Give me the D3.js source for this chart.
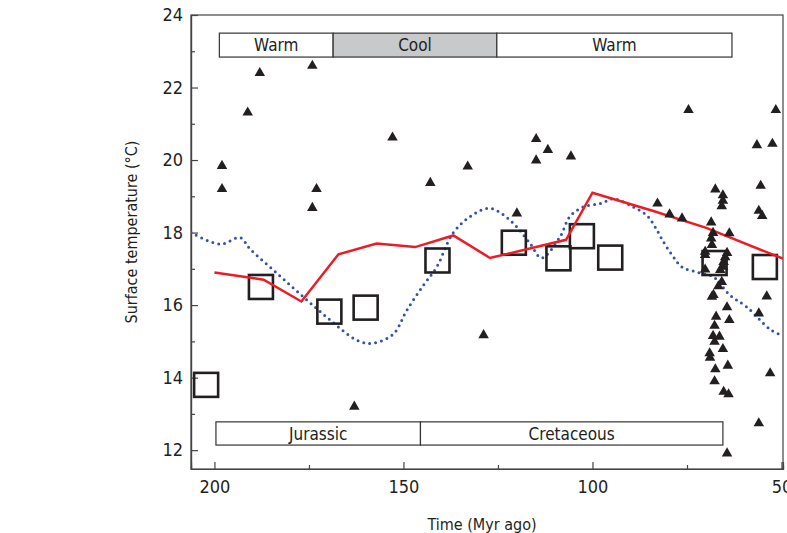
<!DOCTYPE html>
<html>
<head>
<meta charset="utf-8">
<script src="https://cdn.jsdelivr.net/npm/d3@7"></script>
<style>
  body { margin: 0; background: #fff; }
  svg text { font-family: "Liberation Sans Narrow", "DejaVu Sans Condensed", "Arial Narrow", sans-serif; fill: #231f20; }
</style>
</head>
<body>
<div id="chart"></div>
<script>
// ---- data (age in Myr ago, temperature in deg C) ----
var xTicks = [200, 150, 100, 50];
var xMinor = [175, 125, 75];
var yTicks = [12, 14, 16, 18, 20, 22, 24];
var yMinor = [13, 15, 17, 19, 21, 23];

var climatePhases = [
  {label: "Warm", from: 198.7, to: 168.6, cool: false},
  {label: "Cool", from: 168.6, to: 125.3, cool: true},
  {label: "Warm", from: 125.3, to: 63.1, cool: false}
];
var periods = [
  {label: "Jurassic", from: 199.6, to: 145.5},
  {label: "Cretaceous", from: 145.5, to: 65.5}
];

// red solid line
var redAge  = [200, 187, 177, 167.2, 157.1, 146.9, 136.8, 127.1, 107, 100, 84.1, 69.9, 49.6];
var redTemp = [16.9, 16.7, 16.1, 17.4, 17.7, 17.6, 17.92, 17.3, 17.8, 19.1, 18.6, 18.13, 17.28];

// blue dotted curve
var blueAge  = [206.2, 198.5, 193.2, 190.6, 183.5, 176.5, 169.4, 162.3, 158, 152.7, 149.1, 144.7, 141.2,
                136.8, 131.5, 127.1, 121.8, 116.5, 113.5, 108.6, 106, 102.4, 97.9, 94.4, 89.1, 85.6, 83.4,
                81.2, 78.6, 76.3, 72, 68, 63.6, 59.2, 53, 49.6];
var blueTemp = [18.0, 17.68, 17.86, 17.55, 16.88, 16.23, 15.59, 15.03, 14.95, 15.2, 15.86, 16.55, 17.05,
                18.0, 18.5, 18.67, 18.34, 17.7, 17.3, 17.88, 18.44, 18.71, 18.8, 18.93, 18.7, 18.47, 18.15,
                17.74, 17.33, 17.05, 16.9, 16.78, 16.27, 15.95, 15.33, 15.15];

// open squares
var sqAge  = [202.2, 187.7, 169.6, 160, 141, 120.8, 109, 102.8, 95.3, 67.7, 54.4];
var sqTemp = [13.8, 16.5, 15.82, 15.93, 17.23, 17.72, 17.29, 17.9, 17.31, 17.16, 17.05];

// filled triangles
var triAge  = [198, 198, 191.2, 188, 174.1, 173, 174.1, 152.9, 163, 142.9, 133, 128.8, 120, 114.9, 111.8,
               114.9, 105.7, 82.8, 79.6, 76.3, 74.6,
               51.5, 56.5, 52.4, 55.5, 56, 55.1, 53.9, 56, 53, 56,
               67.5, 65.5, 65.5, 65.8, 68.6, 63.8, 68.1, 68.6, 68.4, 70.2, 70.2, 64.4, 64.9, 65.3, 65.5,
               66.2, 70.2, 65.8, 66.7, 68.0, 68.4, 64.4, 63.8, 67.3, 67.7, 68.1, 66.4, 67.7, 65.5, 69.0,
               68.9, 64.2, 67.5, 67.7, 65.3, 64.0, 64.4];
var triTemp = [19.84, 19.2, 21.31, 22.4, 22.6, 19.2, 18.68, 20.62, 13.2, 19.37, 19.82, 15.17, 18.53, 20.58, 20.28,
               19.99, 20.1, 18.8, 18.5, 18.39, 21.38,
               21.38, 20.41, 20.45, 19.29, 18.6, 18.46, 16.24, 15.77, 14.12, 12.74,
               19.19, 19.03, 18.88, 18.73, 18.28, 17.98, 17.99, 17.84, 17.66, 17.47, 17.38, 17.44, 17.32, 17.19, 17.06,
               16.97, 16.98, 16.64, 16.52, 16.28, 16.23, 15.94, 15.59, 15.68, 15.43, 15.15, 15.13, 14.99, 14.79, 14.67,
               14.55, 14.33, 14.23, 13.9, 13.61, 13.54, 11.91];

// ---- layout ----
var W = 787, H = 533;
var plot = {left: 191, right: 783, top: 15, bottom: 469};

var svg = d3.select("#chart").append("svg")
  .attr("width", W).attr("height", H);

var x = d3.scaleLinear().domain([206.2, 49.6]).range([plot.left, plot.right]);
var y = d3.scaleLinear().domain([11.48, 24]).range([plot.bottom, plot.top]);

svg.append("clipPath").attr("id", "clip")
  .append("rect")
  .attr("x", plot.left).attr("y", plot.top)
  .attr("width", plot.right - plot.left).attr("height", plot.bottom - plot.top);

// frame
svg.append("rect")
  .attr("x", plot.left).attr("y", plot.top)
  .attr("width", plot.right - plot.left).attr("height", plot.bottom - plot.top)
  .attr("fill", "none").attr("stroke", "#444").attr("stroke-width", 1.2);

// axes (ticks pointing inward)
var xAxis = svg.append("g")
  .attr("transform", "translate(0," + plot.bottom + ")")
  .call(d3.axisBottom(x).tickValues(xTicks).tickSize(-7).tickPadding(11).tickFormat(d3.format("d")));
svg.append("g")
  .attr("transform", "translate(0," + plot.bottom + ")")
  .call(d3.axisBottom(x).tickValues(xMinor).tickSize(-4).tickFormat(""));
var yAxis = svg.append("g")
  .attr("transform", "translate(" + plot.left + ",0)")
  .call(d3.axisLeft(y).tickValues(yTicks).tickSize(-7).tickPadding(8).tickFormat(d3.format("d")));
svg.append("g")
  .attr("transform", "translate(" + plot.left + ",0)")
  .call(d3.axisLeft(y).tickValues(yMinor).tickSize(-4).tickFormat(""));

svg.selectAll(".domain").attr("stroke", "#444").attr("stroke-width", 1.2);
svg.selectAll(".tick line").attr("stroke", "#444").attr("stroke-width", 1.2);
svg.selectAll(".tick text").attr("font-size", 18).attr("fill", "#231f20");

// axis titles
svg.append("text")
  .attr("transform", "translate(137,232) rotate(-90)")
  .attr("text-anchor", "middle")
  .attr("font-size", 16)
  .text("Surface temperature (°C)");
svg.append("text")
  .attr("x", 482).attr("y", 530)
  .attr("text-anchor", "middle")
  .attr("font-size", 16)
  .text("Time (Myr ago)");

// climate phase boxes (top)
var phaseTop = 23.5, phaseBottom = 22.84;
var ph = svg.append("g").selectAll("g").data(climatePhases).enter().append("g");
ph.append("rect")
  .attr("x", function(d) { return x(d.from); })
  .attr("y", y(phaseTop))
  .attr("width", function(d) { return x(d.to) - x(d.from); })
  .attr("height", y(phaseBottom) - y(phaseTop))
  .attr("fill", function(d) { return d.cool ? "#c8c9cb" : "#fff"; })
  .attr("stroke", "#333").attr("stroke-width", 1.2);
ph.append("text")
  .attr("x", function(d) { return (x(d.from) + x(d.to)) / 2; })
  .attr("y", (y(phaseTop) + y(phaseBottom)) / 2)
  .attr("dy", "0.36em")
  .attr("text-anchor", "middle")
  .attr("font-size", 17)
  .text(function(d) { return d.label; });

// geologic period boxes (bottom)
var perTop = 12.78, perBottom = 12.14;
var pr = svg.append("g").selectAll("g").data(periods).enter().append("g");
pr.append("rect")
  .attr("x", function(d) { return x(d.from); })
  .attr("y", y(perTop))
  .attr("width", function(d) { return x(d.to) - x(d.from); })
  .attr("height", y(perBottom) - y(perTop))
  .attr("fill", "#fff")
  .attr("stroke", "#333").attr("stroke-width", 1.2);
pr.append("text")
  .attr("x", function(d) { return (x(d.from) + x(d.to)) / 2; })
  .attr("y", (y(perTop) + y(perBottom)) / 2)
  .attr("dy", "0.36em")
  .attr("text-anchor", "middle")
  .attr("font-size", 17)
  .text(function(d) { return d.label; });

var marks = svg.append("g").attr("clip-path", "url(#clip)");

// blue dotted curve
var blueData = blueAge.map(function(a, i) { return [a, blueTemp[i]]; });
marks.append("path")
  .datum(blueData)
  .attr("fill", "none")
  .attr("stroke", "#3552a8")
  .attr("stroke-width", 3)
  .attr("stroke-linecap", "round")
  .attr("stroke-dasharray", "0 6")
  .attr("d", d3.line().x(function(d) { return x(d[0]); }).y(function(d) { return y(d[1]); })
    .curve(d3.curveCatmullRom.alpha(0.5)));

// open squares
var sqSize = 24;
marks.selectAll(".sq")
  .data(sqAge.map(function(a, i) { return [a, sqTemp[i]]; }))
  .enter().append("rect")
  .attr("x", function(d) { return x(d[0]) - sqSize / 2; })
  .attr("y", function(d) { return y(d[1]) - sqSize / 2; })
  .attr("width", sqSize).attr("height", sqSize)
  .attr("fill", "none")
  .attr("stroke", "#231f20")
  .attr("stroke-width", 2.6);

// red line
var redData = redAge.map(function(a, i) { return [a, redTemp[i]]; });
marks.append("path")
  .datum(redData)
  .attr("fill", "none")
  .attr("stroke", "#ed1c24")
  .attr("stroke-width", 2.5)
  .attr("d", d3.line().x(function(d) { return x(d[0]); }).y(function(d) { return y(d[1]); }));

// triangles
var tri = d3.symbol().type(d3.symbolTriangle).size(48);
marks.selectAll(".tri")
  .data(triAge.map(function(a, i) { return [a, triTemp[i]]; }))
  .enter().append("path")
  .attr("d", tri)
  .attr("transform", function(d) { return "translate(" + x(d[0]) + "," + y(d[1]) + ")"; })
  .attr("fill", "#231f20");
</script>
</body>
</html>
